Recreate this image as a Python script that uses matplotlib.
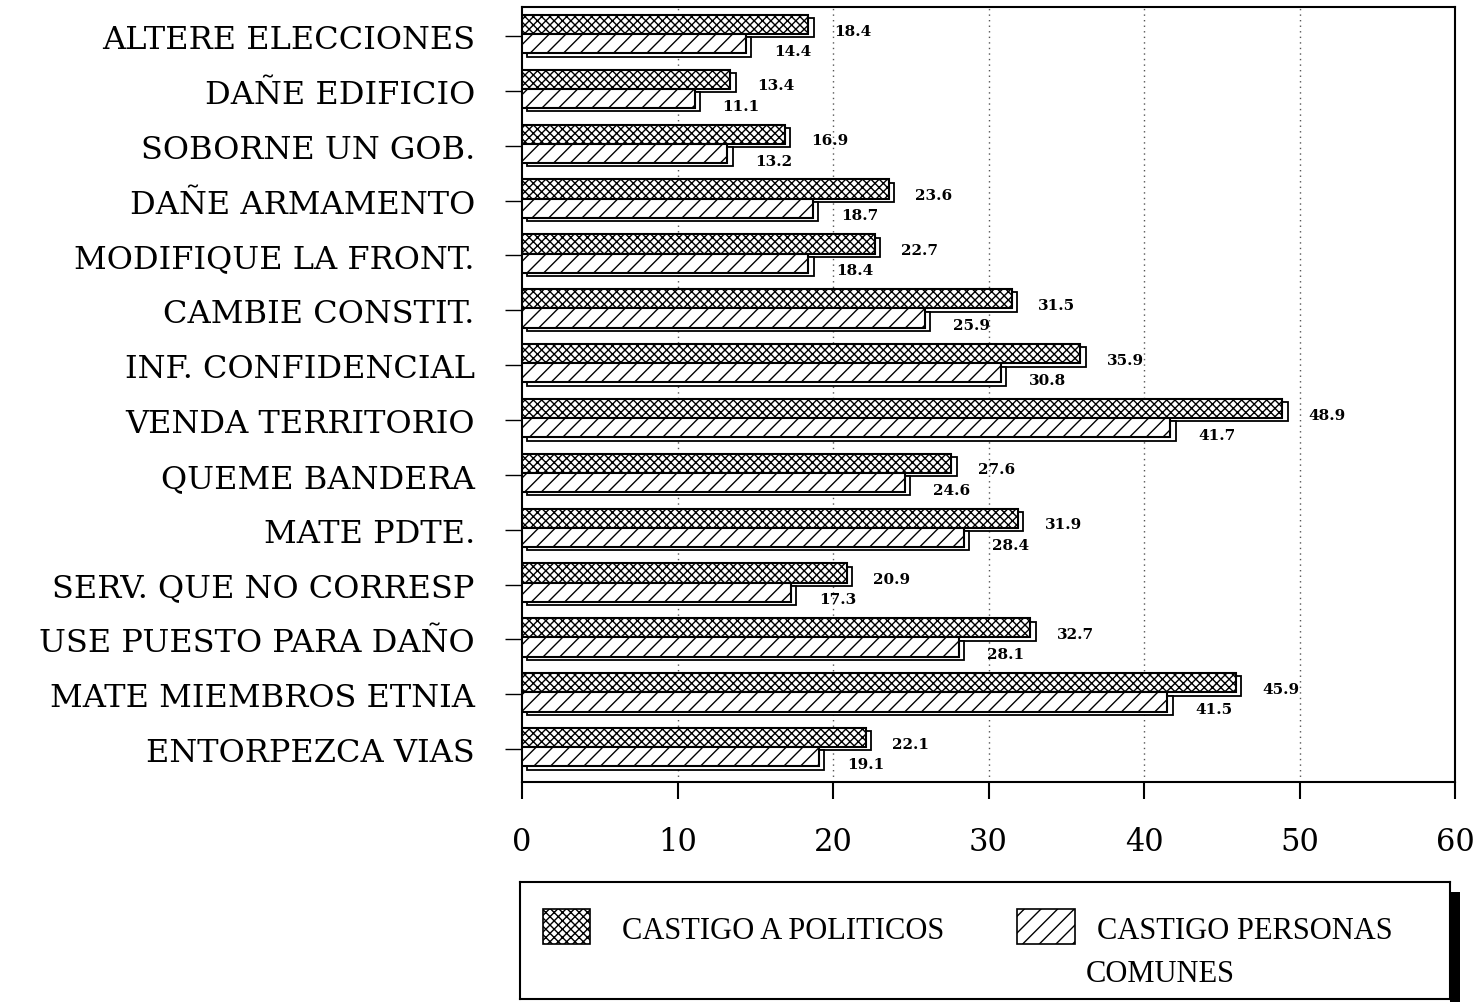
import matplotlib
matplotlib.use("Agg")
import matplotlib.pyplot as plt
from matplotlib.patches import Rectangle
import numpy as np

# values
categories = [
    "ALTERE ELECCIONES",
    "DAÑE EDIFICIO",
    "SOBORNE UN GOB.",
    "DAÑE ARMAMENTO",
    "MODIFIQUE LA FRONT.",
    "CAMBIE CONSTIT.",
    "INF. CONFIDENCIAL",
    "VENDA TERRITORIO",
    "QUEME BANDERA",
    "MATE PDTE.",
    "SERV. QUE NO CORRESP",
    "USE PUESTO PARA DAÑO",
    "MATE MIEMBROS ETNIA",
    "ENTORPEZCA VIAS",
]
politicos = [18.4, 13.4, 16.9, 23.6, 22.7, 31.5, 35.9, 48.9, 27.6, 31.9, 20.9, 32.7, 45.9, 22.1]
comunes = [14.4, 11.1, 13.2, 18.7, 18.4, 25.9, 30.8, 41.7, 24.6, 28.4, 17.3, 28.1, 41.5, 19.1]
legend_labels = ["CASTIGO A POLITICOS", "CASTIGO PERSONAS", "COMUNES"]
x_ticks = [0, 10, 20, 30, 40, 50, 60]

plt.rcParams["hatch.linewidth"] = 1.0
SERIF = "DejaVu Serif"

W, H = 1483, 1003
fig = plt.figure(figsize=(W / 100, H / 100), dpi=100)
ax = fig.add_axes([522 / W, 1 - 783 / H, (1455 - 522) / W, (783 - 8) / H])

y = np.arange(len(categories))
BAR_H = 0.35
DX, DY = 0.35, 0.06  # depth of the fake 3d side face

y_pol = y - 0.21
y_com = y + 0.14

# shadow / side faces
ax.barh(y_pol + DY, politicos, left=DX, height=BAR_H, color="white",
        edgecolor="black", linewidth=1.3, zorder=2)
ax.barh(y_pol, politicos, height=BAR_H, color="white", edgecolor="black",
        hatch="xxxx", linewidth=1.5, zorder=3)
ax.barh(y_com + DY, comunes, left=DX, height=BAR_H, color="white",
        edgecolor="black", linewidth=1.3, zorder=4)
ax.barh(y_com, comunes, height=BAR_H, color="white", edgecolor="black",
        hatch="//", linewidth=1.5, zorder=5)

for yi, p, c in zip(y, politicos, comunes):
    ax.text(p + 1.7, yi - 0.1, f"{p:.1f}", ha="left", va="center",
            fontsize=11, fontweight="bold", family=SERIF, zorder=6)
    ax.text(c + 1.8, yi + 0.27, f"{c:.1f}", ha="left", va="center",
            fontsize=11, fontweight="bold", family=SERIF, zorder=6)

ax.set_xlim(0, 60)
ax.set_ylim(len(categories) - 0.4, -0.53)
ax.set_xticks(x_ticks)
ax.set_xticklabels([str(t) for t in x_ticks], family=SERIF, fontsize=22)
ax.set_yticks(y)
ax.set_yticklabels(categories, family=SERIF, fontsize=23)
ax.tick_params(axis="x", length=12, width=1.5, pad=20, direction="out")
ax.tick_params(axis="y", length=12, width=1.0, pad=22, direction="out")

for t in x_ticks[1:-1]:
    ax.axvline(t, color="#555555", linestyle=(0, (1, 3)), linewidth=1.0, zorder=1)

for s in ax.spines.values():
    s.set_linewidth(1.5)
    s.set_color("black")

# legend box drawn by hand
lax = fig.add_axes([520 / W, 1 - 1000 / H, 930 / W, 117 / H])
lax.set_xlim(520, 1450)
lax.set_ylim(1000, 883)
lax.set_xticks([])
lax.set_yticks([])
for s in lax.spines.values():
    s.set_linewidth(1.5)
lax.add_patch(Rectangle((543, 910), 47, 35, facecolor="white", edgecolor="black",
                        hatch="xxxx", linewidth=1.2))
lax.add_patch(Rectangle((1017, 910), 58, 35, facecolor="white", edgecolor="black",
                        hatch="//", linewidth=1.2))
lax.text(622, 932, legend_labels[0], ha="left", va="center",
         family="Liberation Serif", fontsize=22)
lax.text(1097, 932, legend_labels[1], ha="left", va="center",
         family="Liberation Serif", fontsize=22)
lax.text(1160, 975, legend_labels[2], ha="center", va="center",
         family="Liberation Serif", fontsize=22)
fig.patches.append(Rectangle((1450 / W, 0), 10 / W, 110 / H, transform=fig.transFigure,
                             facecolor="black", edgecolor="none"))

fig.savefig("out.png", dpi=100)
